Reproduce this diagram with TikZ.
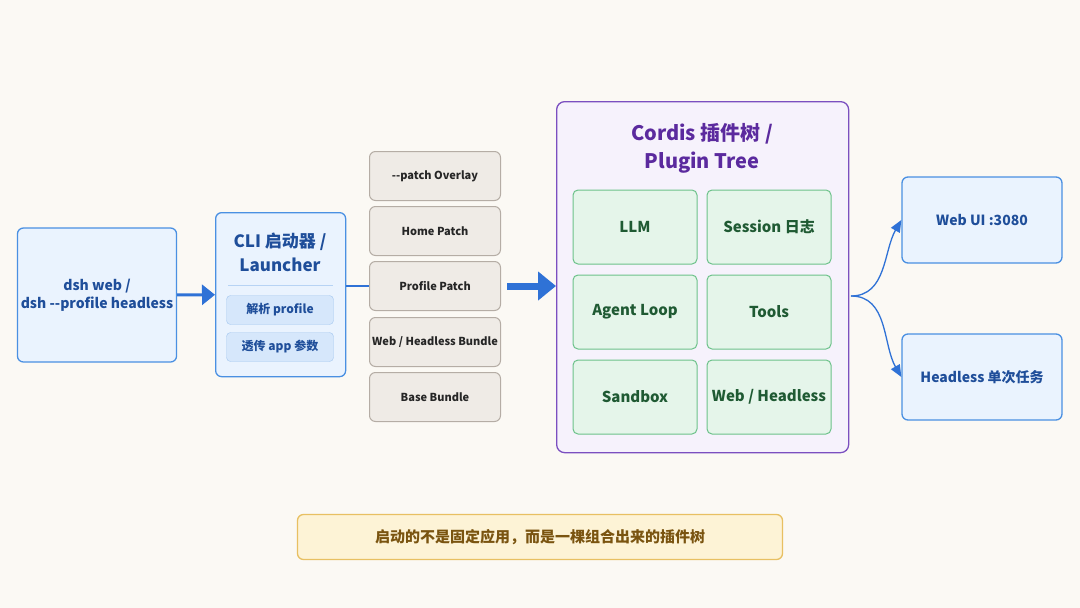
\documentclass[tikz,border=0pt]{standalone}
\usepackage{fontspec}
\setmainfont{Noto Sans CJK SC}
\usetikzlibrary{positioning,arrows.meta}
\definecolor{bgc}{HTML}{FBF9F4}
\definecolor{blueline}{HTML}{4A90E2}
\definecolor{bluefill}{HTML}{EAF3FE}
\definecolor{bluetext}{HTML}{1F4E9A}
\definecolor{subfill}{HTML}{D6E7FB}
\definecolor{greyline}{HTML}{B5ADA5}
\definecolor{greyfill}{HTML}{EFEBE6}
\definecolor{purpline}{HTML}{7B4FC0}
\definecolor{purpfill}{HTML}{F6F2FC}
\definecolor{purptext}{HTML}{5B2A9E}
\definecolor{greenline}{HTML}{6CC28A}
\definecolor{greenfill}{HTML}{E5F5EA}
\definecolor{greentext}{HTML}{1F5A33}
\definecolor{notefill}{HTML}{FDF3D6}
\definecolor{noteline}{HTML}{E8C062}
\definecolor{notetext}{HTML}{7A5410}
\definecolor{arrowc}{HTML}{2F72D6}
\tikzset{
  box/.style={draw=blueline, fill=bluefill, line width=1.3pt, rounded corners=6pt, text=bluetext, font=\bfseries\fontsize{14}{18}\selectfont, align=center},
  sub/.style={draw=blueline!50, fill=subfill, rounded corners=4pt, text=bluetext, font=\bfseries\fontsize{12}{14}\selectfont, minimum width=107pt, minimum height=29pt},
  layer/.style={draw=greyline, fill=greyfill, line width=1pt, rounded corners=6pt, text=black!85, font=\bfseries\fontsize{11}{14}\selectfont, minimum width=131pt, minimum height=49pt, inner sep=1pt},
  plug/.style={draw=greenline, fill=greenfill, line width=1pt, rounded corners=5pt, text=greentext, font=\bfseries\fontsize{15}{18}\selectfont, minimum width=124pt, minimum height=74pt},
  fat/.style={-{Triangle[length=13pt,width=20pt]}, line width=4pt, draw=arrowc},
  thin/.style={-{Triangle[length=12pt,width=10pt]}, line width=1.3pt, draw=arrowc}
}
\begin{document}
\begin{tikzpicture}[x=1pt,y=-1pt]
\fill[bgc] (0,0) rectangle (1080,608);
% input and launcher
\node[box, minimum width=158pt, minimum height=134pt] (cmd) at (97,295) {dsh web /\\dsh -{}-profile headless};
\node[box, minimum width=130pt, minimum height=164pt, anchor=north west] (cli) at (215,212) {};
\node[text=bluetext, font=\bfseries\fontsize{17}{24}\selectfont, align=center] (clititle) at (280,252) {CLI 启动器 /\\Launcher};
\draw[blueline!40, line width=1pt] (228,285) -- (333,285);
\node[sub] (parse) at (280,310) {解析 profile};
\node[sub] (pass) at (280,347) {透传 app 参数};
% layer stack
\node[layer] (overlay) at (435,176) {-{}-patch Overlay};
\node[layer] (home) at (435,231) {Home Patch};
\node[layer] (profile) at (435,286) {Profile Patch};
\node[layer] (bundle) at (435,342) {Web / Headless Bundle};
\node[layer] (base) at (435,397) {Base Bundle};
% plugin tree
\node[draw=purpline, fill=purpfill, line width=1.3pt, rounded corners=8pt, minimum width=292pt, minimum height=351pt, anchor=north west] (tree) at (556,101) {};
\node[text=purptext, font=\bfseries\fontsize{20}{28}\selectfont, align=center] (treetitle) at (702,148) {Cordis 插件树 /\\Plugin Tree};
\node[plug] (llm) at (635,227) {LLM};
\node[plug] (session) at (769,227) {Session 日志};
\node[plug] (agent) at (635,312) {Agent Loop};
\node[plug] (tools) at (769,312) {Tools};
\node[plug] (sandbox) at (635,397) {Sandbox};
\node[plug] (webhl) at (769,397) {Web / Headless};
% outputs
\node[box, minimum width=160pt, minimum height=86pt] (webui) at (982,220) {Web UI :3080};
\node[box, minimum width=160pt, minimum height=86pt] (headless) at (982,377) {Headless 单次任务};
% note
\node[draw=noteline, fill=notefill, line width=1.3pt, rounded corners=6pt, minimum width=485pt, minimum height=45pt, text=notetext, font=\bfseries\fontsize{15}{18}\selectfont] (note) at (540,537) {启动的不是固定应用，而是一棵组合出来的插件树};
% connectors
\draw[fat, line width=3pt] (cmd) -- (cli);
\draw[arrowc, line width=1.3pt] (cli.east |- profile.west) -- (profile.west);
\draw[fat, line width=7pt, -{Triangle[length=18pt,width=28pt]}] ([xshift=6pt]profile.east) -- (tree.west |- profile.east);
\coordinate (fork) at (851,296);
\draw[thin] (fork) to[out=0,in=240] (webui.west);
\draw[thin] (fork) to[out=0,in=120] (headless.west);
\end{tikzpicture}
\end{document}
